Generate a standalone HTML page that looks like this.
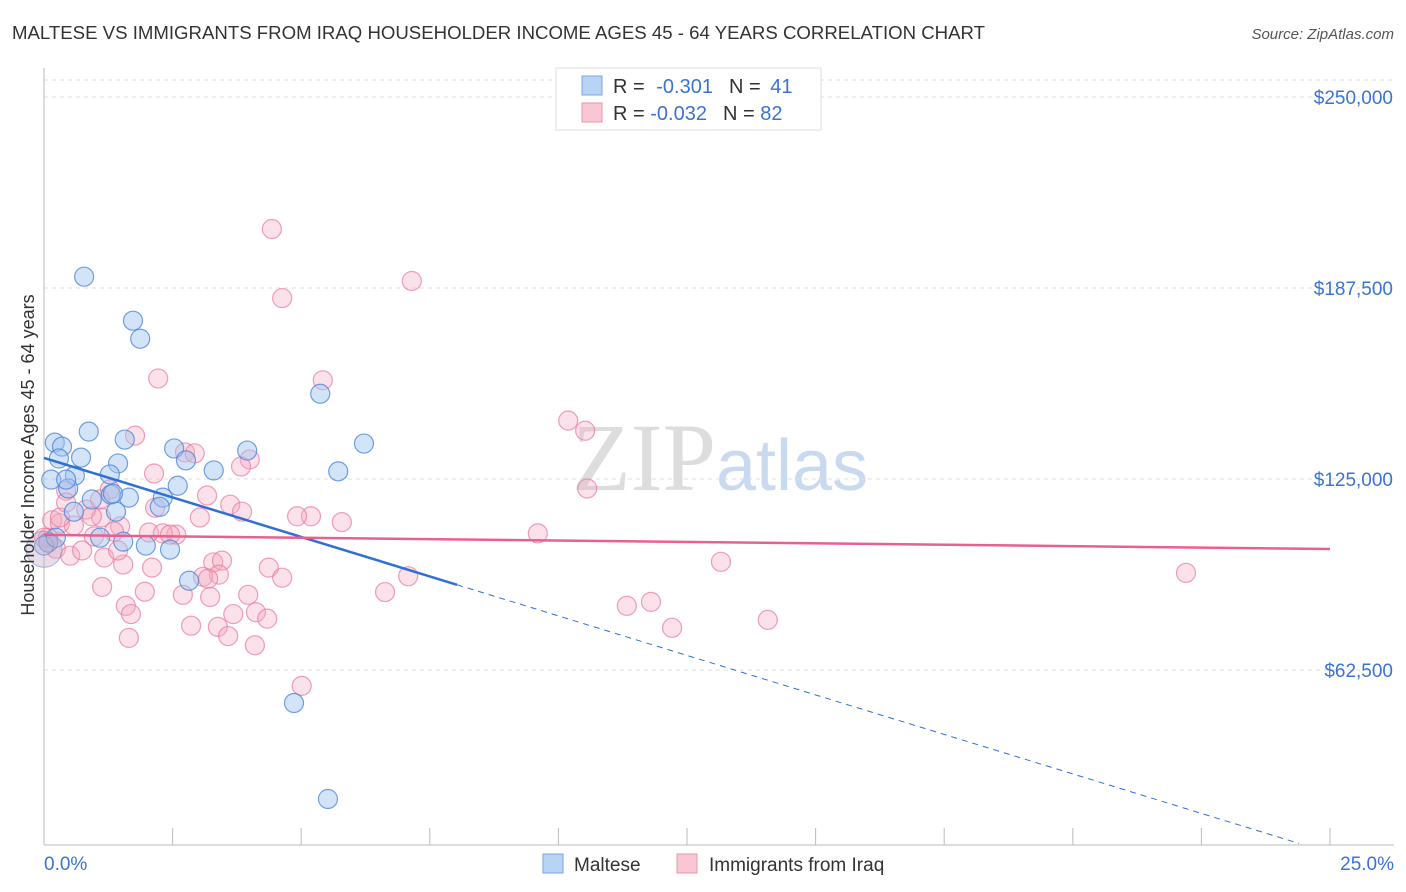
<!DOCTYPE html>
<html><head><meta charset="utf-8"><style>
body{margin:0;background:#fff;font-family:"Liberation Sans",sans-serif}
svg{display:block}
</style></head><body>
<svg id="c" width="1406" height="892">
<text x="12" y="39" font-size="18" fill="#333" textLength="973" lengthAdjust="spacingAndGlyphs">MALTESE VS IMMIGRANTS FROM IRAQ HOUSEHOLDER INCOME AGES 45 - 64 YEARS CORRELATION CHART</text>
<text x="1394" y="39" font-size="15" fill="#555" font-style="italic" text-anchor="end">Source: ZipAtlas.com</text>
<text x="720" y="490" font-size="96" fill="#ddd" text-anchor="middle" font-family="Liberation Serif,serif">ZIP<tspan fill="#c9daf0" font-family="Liberation Sans,sans-serif" font-size="72">atlas</tspan></text>
<g id="grid"></g><g id="axes"></g><g id="pts"></g><g id="lines"></g>
<text transform="translate(34,455) rotate(-90)" font-size="18" fill="#333" text-anchor="middle">Householder Income Ages 45 - 64 years</text>
<g>
<rect x="556" y="68" width="265" height="62" fill="#fff" stroke="#ddd"/>
<rect x="582" y="76" width="20" height="19" fill="#b9d3f5" stroke="#7aa6e0"/>
<rect x="582" y="103" width="20" height="19" fill="#f9c6d4" stroke="#eb93ad"/>
<text x="613" y="93" font-size="20" fill="#333">R = <tspan fill="#3b73d1" dx="6">-0.301</tspan><tspan fill="#333" dx="16">N = </tspan><tspan fill="#3b73d1" dx="4">41</tspan></text>
<text x="613" y="120" font-size="20" fill="#333">R = <tspan fill="#3b73d1">-0.032</tspan><tspan fill="#333" dx="16">N = </tspan><tspan fill="#3b73d1">82</tspan></text>
</g>
<g>
<rect x="543" y="854" width="20" height="19" fill="#b9d3f5" stroke="#7aa6e0"/>
<text x="574" y="871" font-size="19" fill="#333">Maltese</text>
<rect x="677" y="854" width="20" height="19" fill="#f9c6d4" stroke="#eb93ad"/>
<text x="709" y="871" font-size="19" fill="#333">Immigrants from Iraq</text>
</g>
</svg>
<script>
const yTicks=[62500,125000,187500,250000];
const yTickLabels=["$62,500","$125,000","$187,500","$250,000"];
const xTickLabels=["0.0%","25.0%"];
const blueX=[0.78,1.73,1.87,5.37,0.21,0.87,0.35,1.57,0.72,0.29,1.44,0.60,0.14,0.47,0.93,1.65,1.30,0.58,1.40,1.09,1.54,1.98,2.45,2.82,2.31,2.60,2.53,2.76,3.30,3.95,5.72,6.22,4.86,5.52,0.08,0.0,0.23,1.34,2.25,1.28,0.43];
const blueY=[191200,176800,170900,152900,136900,140500,135600,137900,132000,131700,130100,126100,124800,121900,118300,118900,119900,114300,114300,105800,104500,103200,101900,91700,118900,122800,135000,131100,127800,134300,127500,136600,51700,20300,104200,103200,105800,120200,115900,126500,124800];
const pinkX=[4.43,7.15,4.63,5.42,2.22,10.19,10.52,10.56,9.60,22.20,13.16,11.33,11.80,12.21,14.07,7.08,6.63,5.01,5.79,5.19,4.92,4.00,3.83,2.74,2.14,1.77,1.28,0.43,3.17,3.62,3.85,2.16,2.57,2.04,2.31,1.11,0.82,0.93,0.16,0.31,0.58,1.48,0.97,1.36,0.08,0.23,0.51,0.74,1.17,1.54,2.10,3.29,3.46,3.40,3.09,3.19,4.37,4.63,3.97,2.70,1.96,1.13,1.59,1.69,1.65,3.23,3.68,4.12,2.86,3.38,4.34,3.58,4.10,2.45,3.03,2.93,1.44,0.0,0.08,0.31,0.43,1.09];
const pinkY=[206800,189800,184200,157300,157900,144100,140800,121900,107200,94300,97900,83500,84800,76300,78900,93200,88000,57300,110900,112800,112800,131400,129100,133700,126800,139200,121600,121200,119600,116600,114300,115600,106800,107500,107200,112400,115000,112800,111500,110500,109800,109500,106200,107800,105800,102200,99900,101600,99300,97000,96000,97700,98300,93700,93000,92400,96000,92700,87100,87100,88100,89700,83500,80800,73000,86400,80800,81400,77000,76600,79300,73600,70600,106800,112400,133400,101600,105800,104200,112400,117300,118300];
const X=v=>44+v/25*1286, Y=v=>861-v/62500*191;
const NS='http://www.w3.org/2000/svg';
function mk(p,t,a){const e=document.createElementNS(NS,t);for(const k in a)e.setAttribute(k,a[k]);document.getElementById(p).appendChild(e);return e;}
let gl=mk('grid','line',{x1:44,x2:1394,y1:80,y2:80,stroke:'#ddd','stroke-dasharray':'4,4'});


yTicks.forEach((t,i)=>{
 const g=mk('grid','line',{x1:44,x2:1394,y1:Y(t),y2:Y(t),stroke:'#ddd','stroke-dasharray':'4,4'});
 
 
 const l=mk('axes','text',{x:1393,y:Y(t)+7,'font-size':19,fill:'#3b73d1','text-anchor':'end'});l.textContent=yTickLabels[i];
 
 
});
let ax=mk('axes','line',{x1:44,x2:44,y1:68,y2:845,stroke:'#bbb'});


let bx=mk('axes','line',{x1:44,x2:1394,y1:845,y2:845,stroke:'#bbb'});


for(let i=0;i<=10;i++){const t=mk('axes','line',{x1:X(i*2.5),x2:X(i*2.5),y1:828,y2:845,stroke:'#bbb'});
 
 }
[[0,'start',44],[25,'end',1394]].forEach((d,i)=>{const t=mk('axes','text',{x:d[2],y:870,'font-size':19,fill:'#3b73d1','text-anchor':d[1]});t.textContent=xTickLabels[i];
 
 });
pinkX.forEach((x,i)=>{const c=mk('pts','circle',{cx:X(x),cy:Y(pinkY[i]),r:9.5,fill:'rgba(244,170,192,0.35)',stroke:'rgba(232,120,155,0.7)','stroke-width':1.2});
 
 });
blueX.forEach((x,i)=>{const c=mk('pts','circle',{cx:X(x),cy:Y(blueY[i]),r:9.5,fill:'rgba(160,195,240,0.45)',stroke:'rgba(70,130,215,0.75)','stroke-width':1.2});
 
 });
let big=mk('pts','circle',{cx:X(0),cy:Y(102000),r:18,fill:'rgba(200,170,200,0.4)',stroke:'rgba(120,140,210,0.6)'});


const bL=v=>131900-5170*v, pL=v=>106700-184*v;
let b1=mk('lines','line',{x1:X(0),y1:Y(bL(0)),x2:X(8.03),y2:Y(bL(8.03)),stroke:'#2f6fd6','stroke-width':2.5});


let b2=mk('lines','line',{x1:X(8.03),y1:Y(bL(8.03)),x2:X(24.4),y2:Y(bL(24.4)),stroke:'#2f6fd6','stroke-width':1,'stroke-dasharray':'6,5'});


let p1=mk('lines','line',{x1:X(0),y1:Y(pL(0)),x2:X(25),y2:Y(pL(25)),stroke:'#e8608e','stroke-width':2.5});


</script>
</body></html>
